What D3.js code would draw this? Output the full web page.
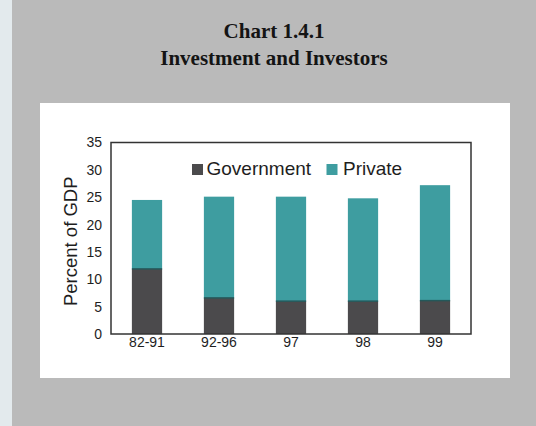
<!DOCTYPE html>
<html>
<head>
<meta charset="utf-8">
<script src="https://cdn.jsdelivr.net/npm/d3@7"></script>
<style>
  html, body { margin: 0; padding: 0; background: #bababa; }
  svg { display: block; }
</style>
</head>
<body>
<svg id="chart" width="536" height="426"></svg>
<script>
const categories = ["82-91", "92-96", "97", "98", "99"];
const government = [11.9, 6.6, 6.0, 6.0, 6.1];
const privateInv = [12.6, 18.5, 19.1, 18.8, 21.1];
const seriesNames = ["Government", "Private"];
const yTicks = [0, 5, 10, 15, 20, 25, 30, 35];
const titleLines = ["Chart 1.4.1", "Investment and Investors"];
const yLabel = "Percent of GDP";

const colors = { Government: "#4b4a4c", Private: "#3e9da0" };

const svg = d3.select("#chart");

// background texture-ish
svg.append("rect").attr("x", 0).attr("y", 0).attr("width", 536).attr("height", 426).attr("fill", "#bababa");
svg.append("rect").attr("x", 0).attr("y", 0).attr("width", 12).attr("height", 426).attr("fill", "#e3eaed");

// title
svg.selectAll("text.title").data(titleLines).join("text")
  .attr("class", "title")
  .attr("x", 274)
  .attr("y", (d, i) => 38 + i * 27)
  .attr("text-anchor", "middle")
  .attr("font-family", "'Liberation Serif', 'Times New Roman', serif")
  .attr("font-weight", "bold")
  .attr("font-size", 21)
  .attr("fill", "#141414")
  .text(d => d);

// white panel
svg.append("rect").attr("x", 40).attr("y", 103).attr("width", 470).attr("height", 275).attr("fill", "#ffffff");

const plot = { left: 111, right: 471, top: 142.5, bottom: 334 };

const x = d3.scaleBand().domain(categories).range([plot.left, plot.right])
  .paddingInner(0.58).paddingOuter(0.29);
const y = d3.scaleLinear().domain([0, 35]).range([plot.bottom, plot.top]);

const rows = categories.map((c, i) => ({ cat: c, Government: government[i], Private: privateInv[i] }));
const stack = d3.stack().keys(seriesNames)(rows);

svg.append("g").selectAll("g").data(stack).join("g")
  .attr("fill", d => colors[d.key])
  .selectAll("rect").data(d => d).join("rect")
  .attr("x", d => x(d.data.cat))
  .attr("width", x.bandwidth())
  .attr("y", d => y(d[1]))
  .attr("height", d => y(d[0]) - y(d[1]));

// boundary line between segments (darker)
svg.append("g").selectAll("line").data(rows).join("line")
  .attr("x1", d => x(d.cat)).attr("x2", d => x(d.cat) + x.bandwidth())
  .attr("y1", d => y(d.Government)).attr("y2", d => y(d.Government))
  .attr("stroke", "#24585a").attr("stroke-width", 1.5);

// frame
svg.append("rect")
  .attr("x", plot.left).attr("y", plot.top)
  .attr("width", plot.right - plot.left).attr("height", plot.bottom - plot.top)
  .attr("fill", "none").attr("stroke", "#333333").attr("stroke-width", 1.5);

// axes
const yAxis = d3.axisLeft(y).tickValues(yTicks).tickSize(0).tickPadding(9);
const gy = svg.append("g").attr("transform", `translate(${plot.left},0)`).call(yAxis);
gy.select(".domain").remove();
gy.selectAll("text").attr("font-family", "'Liberation Sans', Arial, sans-serif")
  .attr("font-size", 14).attr("fill", "#1e1e1e");

const xAxis = d3.axisBottom(x).tickSize(0).tickPadding(3);
const gx = svg.append("g").attr("transform", `translate(0,${plot.bottom})`).call(xAxis);
gx.select(".domain").remove();
gx.selectAll("text").attr("font-family", "'Liberation Sans', Arial, sans-serif")
  .attr("font-size", 14).attr("fill", "#1e1e1e");

// y label
svg.append("text")
  .attr("transform", `translate(77,${(plot.top + plot.bottom) / 2 + 3}) rotate(-90)`)
  .attr("text-anchor", "middle")
  .attr("font-family", "'Liberation Sans', Arial, sans-serif")
  .attr("font-size", 18.5)
  .attr("fill", "#1e1e1e")
  .text(yLabel);

// legend
const legendPos = [{ sx: 192, tx: 206.5 }, { sx: 326.5, tx: 343 }];
const lg = svg.append("g").selectAll("g").data(seriesNames).join("g");
lg.append("rect")
  .attr("x", (d, i) => legendPos[i].sx).attr("y", 164)
  .attr("width", 11).attr("height", 11)
  .attr("fill", d => colors[d]);
lg.append("text")
  .attr("x", (d, i) => legendPos[i].tx).attr("y", 175)
  .attr("font-family", "'Liberation Sans', Arial, sans-serif")
  .attr("font-size", 19)
  .attr("fill", "#1e1e1e")
  .text(d => d);
</script>
</body>
</html>
